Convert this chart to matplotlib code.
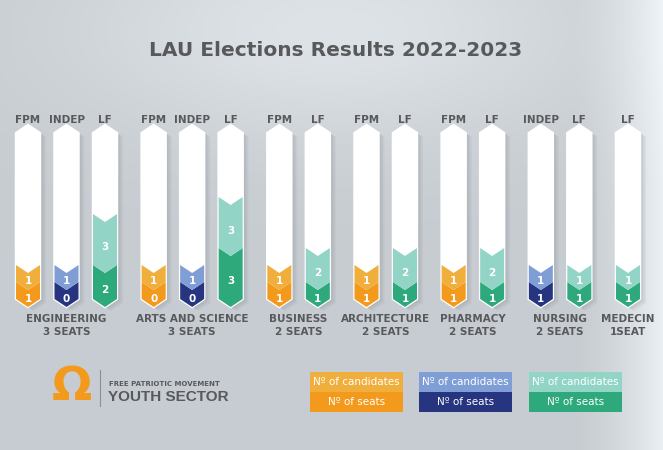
import numpy as np
import matplotlib
matplotlib.use("Agg")
import matplotlib.pyplot as plt
from matplotlib.patches import Polygon, Rectangle

faculties = ["ENGINEERING", "ARTS AND SCIENCE", "BUSINESS", "ARCHITECTURE",
             "PHARMACY", "NURSING", "MEDECIN"]
faculty_seats = ["3 SEATS", "3 SEATS", "2 SEATS", "2 SEATS", "2 SEATS", "2 SEATS", "1SEAT"]
lists = [["FPM", "INDEP", "LF"], ["FPM", "INDEP", "LF"], ["FPM", "LF"], ["FPM", "LF"],
         ["FPM", "LF"], ["INDEP", "LF"], ["LF"]]
candidates = [[1, 1, 3], [1, 1, 3], [1, 2], [1, 2], [1, 2], [1, 1], [1]]
seats = [[1, 0, 2], [0, 0, 3], [1, 1], [1, 1], [1, 1], [1, 1], [1]]

cand_color = {"FPM": "#f0ae3c", "INDEP": "#7f9ed6", "LF": "#92d4c6"}
seat_color = {"FPM": "#f39a1d", "INDEP": "#273581", "LF": "#2da97c"}
legend_order = ["FPM", "INDEP", "LF"]
grey = "#58595b"

W, H = 663, 450
fig = plt.figure(figsize=(W / 100, H / 100), dpi=100)

# background: grey with a soft glow at the top and a lighter right edge
ax_bg = fig.add_axes([0, 0, 1, 1])
yy, xx = np.mgrid[0:H, 0:W]
base = np.array([0.78, 0.80, 0.82])
glow = 0.09 * np.exp(-((xx - 330) / 260.0) ** 2 - ((yy - 30) / 110.0) ** 2)
edge = 0.14 * np.clip((xx - 570) / 93.0, 0, 1) ** 1.5
img = np.clip(base[None, None, :] + (glow + edge)[:, :, None], 0, 1)
ax_bg.imshow(img, aspect="auto", extent=[0, 1, 0, 1], origin="upper")
ax_bg.axis("off")

# main axes: x in bar steps, y in candidate/seat units
ax = fig.add_axes([0, 0, 1, 1])
step_px, unit_px = 38.5, 17.0
ax.set_xlim(-28 / step_px, (W - 28) / step_px)
ax.set_ylim(-(H - 299) / unit_px, 299 / unit_px)
ax.axis("off")
ax.patch.set_alpha(0)

half = 12 / step_px      # half bar width
tip = 8 / unit_px        # chevron depth
top = 9.76               # height of the white column
gap = 0.264


def chevron(x, y0, y1, up_top=False):
    t = y1 + tip if up_top else y1 - tip
    return [(x - half, y0), (x, y0 - tip), (x + half, y0),
            (x + half, y1), (x, t), (x - half, y1)]


pos = 0.0
for fac, fseat, names, cands, sts in zip(faculties, faculty_seats, lists, candidates, seats):
    xs = []
    for name, c, s in zip(names, cands, sts):
        x = pos
        xs.append(x)
        # soft shadow
        for k in range(1, 5):
            pts = [(px + k * 1.5 / step_px, py - k * 1.0 / unit_px)
                   for px, py in chevron(x, 0, top, up_top=True)]
            ax.add_patch(Polygon(pts, closed=True, fc="#6f777c", ec="none", alpha=0.08, zorder=1))
        ax.add_patch(Polygon(chevron(x, 0, top, up_top=True), closed=True, fc="white",
                             ec="white", lw=1.8, joinstyle="miter", zorder=2))
        s_h = max(s, 1)
        ax.add_patch(Polygon(chevron(x, 0, s_h), closed=True, fc=seat_color[name],
                             ec="none", zorder=3))
        ax.add_patch(Polygon(chevron(x, s_h, s_h + c), closed=True, fc=cand_color[name],
                             ec="none", zorder=3))
        ax.text(x, s_h / 2 - tip, str(s), ha="center", va="center", color="white",
                fontsize=7.5, fontweight="bold", zorder=4)
        ax.text(x, s_h + c / 2 - tip, str(c), ha="center", va="center", color="white",
                fontsize=7.5, fontweight="bold", zorder=4)
        ax.text(x, 10.53, name, ha="center", va="center", color=grey,
                fontsize=7.5, fontweight="bold")
        pos += 1
    pos += gap
    xc = np.mean(xs)
    ax.text(xc, -1.18, fac, ha="center", va="center", color=grey,
            fontsize=7.5, fontweight="bold")
    ax.text(xc, -1.95, fseat, ha="center", va="center", color=grey,
            fontsize=7.5, fontweight="bold")

fig.text(336 / W, 1 - 51 / H, "LAU Elections Results 2022-2023", ha="center", va="center",
         color=grey, fontsize=14.5, fontweight="bold")

# logo
fig.text(72 / W, 1 - 388 / H, "\u03a9", ha="center", va="center", color="#f39a1d",
         fontsize=34, fontweight="bold")
fig.add_artist(plt.Line2D([100 / W, 100 / W], [1 - 370 / H, 1 - 406 / H],
                          color="#8a8f93", lw=0.8))
fig.text(109 / W, 1 - 384.5 / H, "FREE PATRIOTIC MOVEMENT", ha="left", va="center",
         color=grey, fontsize=5, fontweight="bold")
fig.text(108 / W, 1 - 397 / H, "YOUTH SECTOR", ha="left", va="center",
         color=grey, fontsize=11, fontweight="bold", family="Liberation Sans")

# legend boxes
box_left = [310, 419, 529]
for name, bx in zip(legend_order, box_left):
    for yt, col, label in [(372, cand_color[name], "N\u00ba of candidates"),
                           (392, seat_color[name], "N\u00ba of seats")]:
        fig.add_artist(Rectangle((bx / W, 1 - (yt + 20) / H), 93 / W, 20 / H,
                                 transform=fig.transFigure, fc=col, ec="none"))
        fig.text((bx + 46.5) / W, 1 - (yt + 10) / H, label, ha="center", va="center",
                 color="white", fontsize=7.5)

fig.savefig("out.png", dpi=100)
